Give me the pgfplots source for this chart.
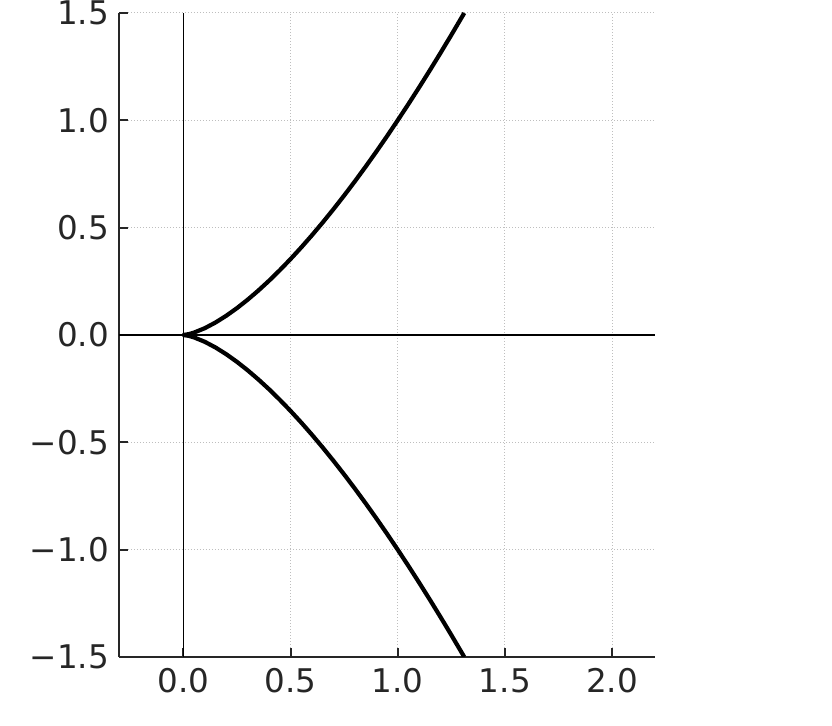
\documentclass[border=0pt]{standalone}
\usepackage{fontspec}
\setmainfont{DejaVu Sans}
\usepackage{pgfplots}
\pgfplotsset{compat=1.18}
\definecolor{spine}{HTML}{262626}
\definecolor{gridc}{HTML}{BEBEBE}
\begin{document}
\begin{tikzpicture}
\path[use as bounding box] (-59.5pt,-34.5pt) rectangle (356.5pt,328.5pt);
\begin{axis}[
  at={(0,0)}, anchor=south west,
  scale only axis, width=268pt, height=322pt,
  xmin=-0.3, xmax=2.2, ymin=-1.5, ymax=1.5,
  axis x line*=bottom, axis y line*=left,
  axis line style={-, line width=1.3pt, color=spine},
  xtick={0,0.5,1,1.5,2}, xticklabels={0.0,0.5,1.0,1.5,2.0},
  ytick={-1.5,-1,-0.5,0,0.5,1,1.5},
  yticklabels={−1.5,−1.0,−0.5,0.0,0.5,1.0,1.5},
  tick align=inside, major tick length=4.5pt,
  tick style={line width=1pt, color=spine},
  ticklabel style={font=\fontsize{16.3}{19}\selectfont, text=spine},
  yticklabel style={xshift=-1.5pt},
  xticklabel style={yshift=-2pt, text height=12pt, text depth=0pt},
  grid=major, major grid style={dash pattern=on 0.5pt off 1pt, color=gridc, line width=0.5pt},
  clip=true,
]
\addplot[black, line width=0.65pt] coordinates {(0,-1.5) (0,1.5)};
\addplot[black, line width=0.65pt] coordinates {(-0.3,0) (2.2,0)};
\addplot[black, line width=2.1pt, line join=round] coordinates {
(1.3104,-1.5) (1.3,-1.48223) (1.25,-1.39754) (1.2,-1.31453) (1.15,-1.23323)
(1.1,-1.15369) (1.05,-1.07593) (1.0,-1.0) (0.95,-0.92595) (0.9,-0.85381)
(0.85,-0.78367) (0.8,-0.71554) (0.75,-0.64952) (0.7,-0.58566) (0.65,-0.52405)
(0.6,-0.46476) (0.55,-0.40789) (0.5,-0.35355) (0.45,-0.30187) (0.4,-0.25298)
(0.35,-0.20706) (0.3,-0.16432) (0.25,-0.125) (0.2,-0.08944) (0.15,-0.05809)
(0.1,-0.03162) (0.05,-0.01118) (0.025,-0.00395) (0,0)
(0.025,0.00395) (0.05,0.01118) (0.1,0.03162) (0.15,0.05809) (0.2,0.08944)
(0.25,0.125) (0.3,0.16432) (0.35,0.20706) (0.4,0.25298) (0.45,0.30187)
(0.5,0.35355) (0.55,0.40789) (0.6,0.46476) (0.65,0.52405) (0.7,0.58566)
(0.75,0.64952) (0.8,0.71554) (0.85,0.78367) (0.9,0.85381) (0.95,0.92595)
(1.0,1.0) (1.05,1.07593) (1.1,1.15369) (1.15,1.23323) (1.2,1.31453)
(1.25,1.39754) (1.3,1.48223) (1.3104,1.5)
};
\end{axis}
\end{tikzpicture}
\end{document}
